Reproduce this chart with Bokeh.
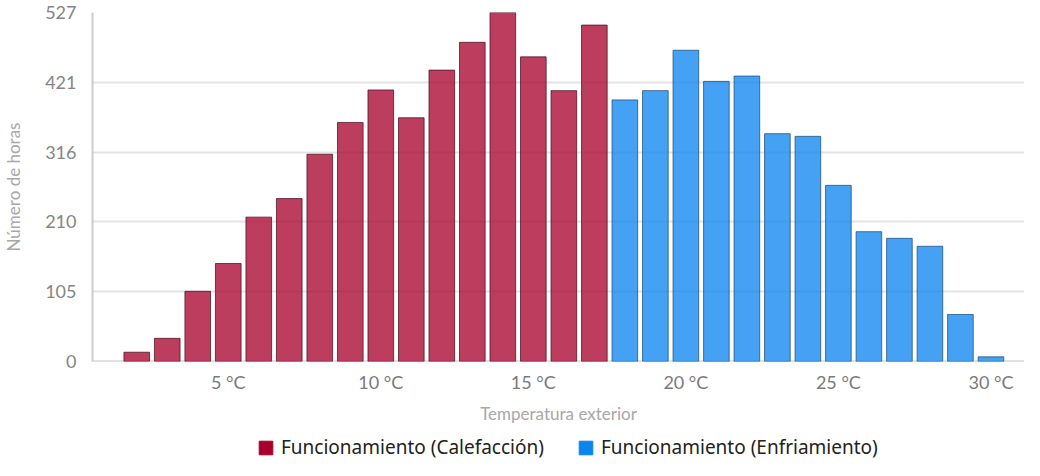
from bokeh.plotting import figure
from bokeh.layouts import column
from bokeh.models import ColumnDataSource, Legend, LegendItem, FixedTicker, Span, Range1d
from bokeh.embed import file_html
from bokeh.resources import INLINE

# ---- data ----
heat_temps = [2, 3, 4, 5, 6, 7, 8, 9, 10, 11, 12, 13, 14, 15, 16, 17]
heat_hours = [14, 35, 106, 148, 218, 246, 313, 361, 410, 368, 440, 482, 527, 460, 409, 508]
cool_temps = [18, 19, 20, 21, 22, 23, 24, 25, 26, 27, 28, 29, 30]
cool_hours = [395, 409, 470, 423, 431, 344, 340, 266, 196, 186, 174, 71, 7]
y_tick_labels = ["0", "105", "210", "316", "421", "527"]
x_tick_values = [5, 10, 15, 20, 25, 30]
x_tick_labels = ["5 °C", "10 °C", "15 °C", "20 °C", "25 °C", "30 °C"]
heat_label = "Funcionamiento (Calefacción)"
cool_label = "Funcionamiento (Enfriamiento)"

y_max = max(heat_hours + cool_hours)
y_ticks = [y_max * i / 5 for i in range(6)]

RED = "#a8002c"
BLUE = "#0a84f0"

p = figure(width=1024, height=426, x_range=Range1d(0.55, 31.1), y_range=Range1d(0, y_max),
           output_backend="svg", toolbar_location=None,
           min_border_left=76, min_border_right=0, min_border_top=12, min_border_bottom=60)
p.outline_line_color = None

heat_src = ColumnDataSource(dict(t=heat_temps, h=heat_hours))
cool_src = ColumnDataSource(dict(t=cool_temps, h=cool_hours))
p.vbar(x="t", top="h", width=0.84, source=heat_src, fill_color=RED, fill_alpha=0.76,
       line_color="#4a1222", line_alpha=0.75, line_width=1)
p.vbar(x="t", top="h", width=0.84, source=cool_src, fill_color=BLUE, fill_alpha=0.76,
       line_color="#1d4f7a", line_alpha=0.75, line_width=1)

p.add_layout(Span(location=0, dimension="width", line_color="#c4c4c4", line_width=2, level="underlay"))

# axes
p.xgrid.grid_line_color = None
p.ygrid.grid_line_color = "#e4e4e4"
p.ygrid.grid_line_width = 2
p.ygrid.ticker = FixedTicker(ticks=y_ticks)

p.yaxis.ticker = FixedTicker(ticks=y_ticks)
p.yaxis.major_label_overrides = {t: l for t, l in zip(y_ticks, y_tick_labels)}
p.yaxis.axis_line_color = "#cccccc"
p.yaxis.axis_line_width = 2
p.yaxis.major_tick_line_color = None
p.yaxis.minor_tick_line_color = None
p.yaxis.major_label_text_font = "Lato"
p.yaxis.major_label_text_font_size = "18px"
p.yaxis.major_label_text_color = "#858585"
p.yaxis.major_label_standoff = 10
p.yaxis.axis_label = "Número de horas"
p.yaxis.axis_label_text_font = "Lato"
p.yaxis.axis_label_text_font_size = "17px"
p.yaxis.axis_label_text_font_style = "normal"
p.yaxis.axis_label_text_color = "#a8a8a8"
p.yaxis.axis_label_standoff = 18

p.xaxis.ticker = FixedTicker(ticks=x_tick_values)
p.xaxis.major_label_overrides = {t: l for t, l in zip(x_tick_values, x_tick_labels)}
p.xaxis.axis_line_color = None
p.xaxis.major_tick_line_color = None
p.xaxis.minor_tick_line_color = None
p.xaxis.major_tick_in = 0
p.xaxis.major_tick_out = 0
p.xaxis.major_label_text_font = "Lato"
p.xaxis.major_label_text_font_size = "18px"
p.xaxis.major_label_text_color = "#7a7a7a"
p.xaxis.major_label_standoff = 9
p.xaxis.axis_label = "Temperatura exterior"
p.xaxis.axis_label_text_font = "Lato"
p.xaxis.axis_label_text_font_size = "17px"
p.xaxis.axis_label_text_font_style = "normal"
p.xaxis.axis_label_text_color = "#a8a8a8"
p.xaxis.axis_label_standoff = 7

# ---- legend strip (proxies use the real data, which lies outside this strip's range) ----
leg = figure(width=1024, height=34, x_range=Range1d(-10, -9), y_range=Range1d(-10, -9),
             output_backend="svg", toolbar_location=None, min_border=0,
             x_axis_location=None, y_axis_location=None)
leg.grid.visible = False
leg.outline_line_color = None
r_heat = leg.vbar(x="t", top="h", width=0.84, source=heat_src, fill_color=RED, line_color=RED)
r_cool = leg.vbar(x="t", top="h", width=0.84, source=cool_src, fill_color=BLUE, line_color=BLUE)
legend = Legend(items=[LegendItem(label=heat_label, renderers=[r_heat]),
                       LegendItem(label=cool_label, renderers=[r_cool])],
                orientation="horizontal", location=(165, 0),
                label_text_font="Noto Sans", label_text_font_size="19px", label_text_color="#222222",
                glyph_width=17, glyph_height=17, label_standoff=7, spacing=33,
                padding=0, margin=0, border_line_color=None, background_fill_alpha=0)
leg.add_layout(legend)

open("out.html", "w").write(file_html(column(p, leg), INLINE))
